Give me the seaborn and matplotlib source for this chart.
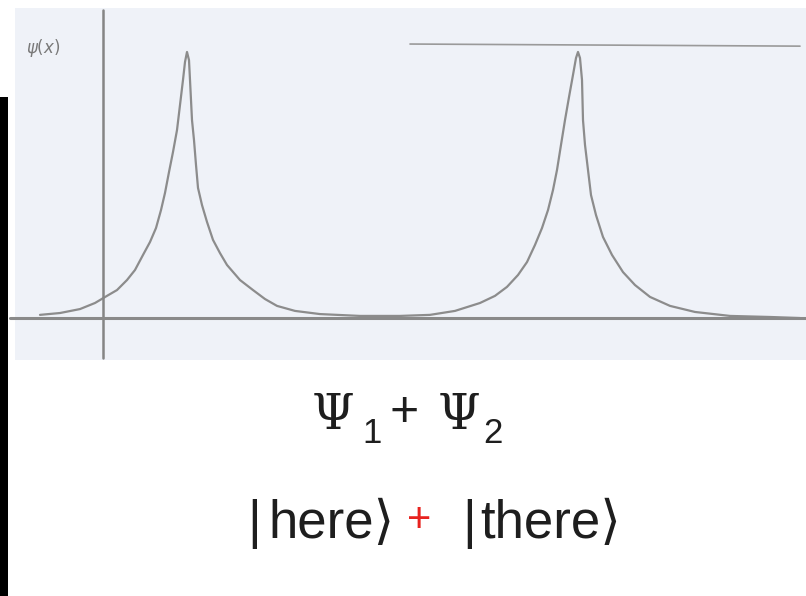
import numpy as np
import pandas as pd
import seaborn as sns
import matplotlib.pyplot as plt
from matplotlib.patches import Rectangle

# wavefunction sketch (x in arbitrary units, psi normalised to peak 1)
x_vals = [-0.63, -0.43, -0.23, -0.08, 0.04, 0.14, 0.24, 0.32, 0.40, 0.47, 0.53, 0.58,
          0.62, 0.66, 0.70, 0.74, 0.77, 0.80, 0.82, 0.84, 0.86,
          0.87, 0.88, 0.89, 0.91, 0.93, 0.95, 0.99, 1.04, 1.10, 1.17, 1.24, 1.37,
          1.50, 1.62, 1.74, 1.92, 2.17, 2.57, 2.97,
          3.27, 3.52, 3.77, 3.92, 4.04, 4.15, 4.24, 4.32, 4.39, 4.45, 4.50, 4.54,
          4.58, 4.62, 4.66, 4.70, 4.73, 4.75, 4.77,
          4.79, 4.80, 4.82, 4.85, 4.88, 4.93, 5.00, 5.09, 5.20, 5.32, 5.47, 5.67,
          5.92, 6.27, 6.67, 6.97]
psi_vals = [0.008, 0.015, 0.030, 0.053, 0.080, 0.102, 0.140, 0.178, 0.235, 0.284, 0.337, 0.405,
            0.470, 0.549, 0.625, 0.708, 0.803, 0.898, 0.966, 1.004, 0.973,
            0.898, 0.822, 0.746, 0.670, 0.576, 0.489, 0.424, 0.360, 0.292, 0.242, 0.197, 0.140,
            0.102, 0.068, 0.042, 0.023, 0.011, 0.004, 0.004,
            0.008, 0.023, 0.053, 0.080, 0.114, 0.159, 0.208, 0.273, 0.337, 0.405, 0.481, 0.557,
            0.652, 0.746, 0.833, 0.917, 0.981, 1.004, 0.981,
            0.898, 0.746, 0.652, 0.557, 0.462, 0.386, 0.303, 0.235, 0.170, 0.121, 0.076, 0.042,
            0.019, 0.004, 0.000, -0.004]

W, H = 806, 596

sns.set_theme(style="white")
plt.rcParams['font.family'] = ['Liberation Sans', 'DejaVu Sans']

fig = plt.figure(figsize=(W / 100, H / 100), dpi=100)
fig.patch.set_facecolor('white')


def fx(px):
    return px / W


def fy(py):
    return 1 - py / H


# pale scanned paper + black strip on the left
fig.add_artist(Rectangle((fx(15), fy(360)), fx(W) - fx(15), fy(8) - fy(360),
                         transform=fig.transFigure, color='#eff2f8', lw=0, zorder=0))
fig.add_artist(Rectangle((0, 0), fx(8), fy(97), transform=fig.transFigure,
                         color='black', lw=0, zorder=5))

ax = fig.add_axes([0, 0, 1, 1])
ax.set_facecolor('none')
ax.set_xlim(-1.03, 7.03)
ax.set_ylim(-1.057, 1.2008)
ax.axis('off')

df = pd.DataFrame({'x': x_vals, 'psi': psi_vals})
sns.lineplot(data=df, x='x', y='psi', ax=ax, color='#8c8c8c', lw=1.6, sort=False)

# hand drawn axes
ax.plot([0, 0], [-0.155, 1.163], color='#858585', lw=1.8)
ax.plot([-0.93, 7.03], [-0.004, -0.004], color='#8a8a8a', lw=2.2)
ax.plot([3.07, 6.97], [1.034, 1.026], color='#9a9a9a', lw=1.2)
ax.text(-0.77, 1.02, r'$\psi(x)$', fontsize=12, color='#7a7a7a', ha='left', va='center')

# equations under the sketch
ink = '#1e1e1e'
fig.text(fx(312), fy(429), 'Ψ', family='DejaVu Serif', fontsize=35, color=ink, va='baseline')
fig.text(fx(362), fy(443), '1', fontsize=25, color=ink, va='baseline')
fig.text(fx(389), fy(426), '+', fontsize=36, color=ink, va='baseline')
fig.text(fx(438), fy(429), 'Ψ', family='DejaVu Serif', fontsize=35, color=ink, va='baseline')
fig.text(fx(483), fy(443), '2', fontsize=25, color=ink, va='baseline')

fig.text(fx(247), fy(538), '|', fontsize=38, color=ink, va='baseline')
fig.text(fx(268), fy(538), 'here⟩', fontsize=38, color=ink, va='baseline')
fig.text(fx(407), fy(532), '+', fontsize=30, color='#e8231f', va='baseline')
fig.text(fx(462), fy(538), '|', fontsize=38, color=ink, va='baseline')
fig.text(fx(480), fy(538), 'there⟩', fontsize=38, color=ink, va='baseline')

fig.savefig('out.png', dpi=100)
